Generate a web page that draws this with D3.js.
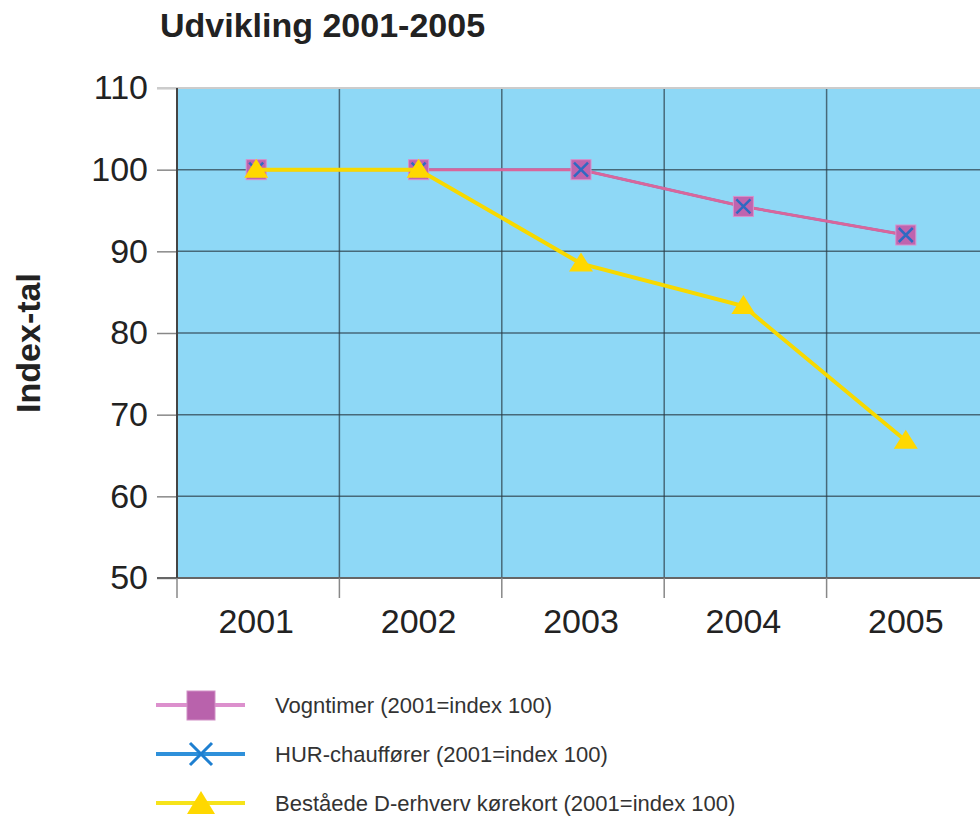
<!DOCTYPE html>
<html>
<head>
<meta charset="utf-8">
<script src="https://cdn.jsdelivr.net/npm/d3@7"></script>
<style>
body{margin:0;background:#fff;}
text{font-family:"Liberation Sans",Arial,sans-serif;}
</style>
</head>
<body>
<div id="canvas"></div>
<script>
//data
var years = ['2001','2002','2003','2004','2005'];
var vogntimer = [100,100,100,95.5,92];
var hurChauffoerer = [100,100,100,95.5,92];
var korekort = [100,100,88.5,83.3,66.8];
var yTicks = [50,60,70,80,90,100,110];
var legendNames = ['Vogntimer (2001=index 100)','HUR-chauffører (2001=index 100)','Beståede D-erhverv kørekort (2001=index 100)'];

var W = 980, H = 816;
var m = {t:88,l:177},
    w = 812,
    h = 490;

var svg = d3.select('#canvas')
    .append('svg')
    .attr('width',W)
    .attr('height',H);

//title
svg.append('text')
    .attr('x',160).attr('y',37)
    .style('font-size','34px').style('font-weight','bold').style('fill','#222')
    .text('Udvikling 2001-2005');

//y axis title
svg.append('text')
    .attr('transform','translate(40,343) rotate(-90)')
    .attr('text-anchor','middle')
    .style('font-size','34px').style('font-weight','bold').style('fill','#222')
    .text('Index-tal');

var plot = svg.append('g').attr('class','plot')
    .attr('transform','translate('+m.l+','+m.t+')');

var x = d3.scaleBand().domain(years).range([0,w]);
var y = d3.scaleLinear().domain([50,110]).range([h,0]);
var cx = function(i){ return x(years[i]) + x.bandwidth()/2 - 2; };

//background
plot.append('rect')
    .attr('width',w).attr('height',h)
    .style('fill','#8ED8F6');

//y axis ticks + labels
var yAxis = plot.append('g').attr('class','axis-y')
    .call(d3.axisLeft(y).tickValues(yTicks).tickSize(20).tickPadding(9));
yAxis.select('.domain').remove();
yAxis.selectAll('line').style('stroke','#888').style('stroke-width',1.5);
yAxis.selectAll('text').style('font-size','34px').style('fill','#222')
    .style('font-family','"Liberation Sans",Arial,sans-serif');

//horizontal gridlines
plot.selectAll('.hgrid')
    .data(yTicks.filter(function(d){return d>50 && d<110;}))
    .enter()
    .append('line').attr('class','hgrid')
    .attr('x1',0).attr('x2',w)
    .attr('y1',function(d){return y(d)}).attr('y2',function(d){return y(d)})
    .style('stroke','#2a3a44').style('stroke-opacity',0.7).style('stroke-width',1.5);

//vertical gridlines
plot.selectAll('.vgrid')
    .data(years.slice(1))
    .enter()
    .append('line').attr('class','vgrid')
    .attr('x1',function(d){return x(d)}).attr('x2',function(d){return x(d)})
    .attr('y1',0).attr('y2',h)
    .style('stroke','#2a3a44').style('stroke-opacity',0.7).style('stroke-width',1.5);

//frame lines
plot.append('line')
    .attr('x1',-20).attr('x2',w).attr('y1',0).attr('y2',0)
    .style('stroke','#ccc').style('stroke-width',2);
plot.append('line')
    .attr('x1',-20).attr('x2',w).attr('y1',h).attr('y2',h)
    .style('stroke','#666').style('stroke-width',2);
plot.append('line')
    .attr('x1',0).attr('x2',0).attr('y1',0).attr('y2',h)
    .style('stroke','#444').style('stroke-width',2);

//x ticks at category boundaries
plot.selectAll('.xtick')
    .data(years)
    .enter()
    .append('line').attr('class','xtick')
    .attr('x1',function(d){return x(d)}).attr('x2',function(d){return x(d)})
    .attr('y1',h).attr('y2',h+20)
    .style('stroke','#888').style('stroke-width',1.5);

//x labels
var xAxis = plot.append('g').attr('class','axis-x')
    .attr('transform','translate(-2,'+h+')')
    .call(d3.axisBottom(x).tickSize(0).tickPadding(31));
xAxis.select('.domain').remove();
xAxis.selectAll('text').style('font-size','34px').style('fill','#222')
    .style('font-family','"Liberation Sans",Arial,sans-serif');

//lines
var line = d3.line()
    .x(function(d,i){return cx(i)})
    .y(function(d){return y(d)});

plot.append('path').datum(hurChauffoerer)
    .attr('d',line)
    .style('fill','none').style('stroke','#2E7FD0').style('stroke-width',2.5);
plot.append('path').datum(vogntimer)
    .attr('d',line)
    .style('fill','none').style('stroke','#D9669B').style('stroke-width',3);

//square markers
plot.selectAll('.sq')
    .data(vogntimer)
    .enter()
    .append('rect').attr('class','sq')
    .attr('x',function(d,i){return cx(i)-10})
    .attr('y',function(d){return y(d)-10})
    .attr('width',20).attr('height',20)
    .style('fill','#BF64AE').style('stroke','#D98FCB').style('stroke-width',1);

//x markers
plot.selectAll('.cross')
    .data(hurChauffoerer)
    .enter()
    .append('path').attr('class','cross')
    .attr('transform',function(d,i){return 'translate('+cx(i)+','+y(d)+')'})
    .attr('d','M-7,-7L7,7M-7,7L7,-7')
    .style('stroke','#2F6AC2').style('stroke-width',2.5).style('fill','none');

//yellow line + triangles
plot.append('path').datum(korekort)
    .attr('d',line)
    .style('fill','none').style('stroke','#F7D900').style('stroke-width',4);
plot.selectAll('.tri')
    .data(korekort)
    .enter()
    .append('path').attr('class','tri')
    .attr('transform',function(d,i){return 'translate('+cx(i)+','+y(d)+')'})
    .attr('d','M0,-11L12,8L-12,8Z')
    .style('fill','#FFD800');

//legend
var legendY = [705,754,803];
var legendColors = ['#DC90CD','#2E90DA','#F6E31A'];
var legend = svg.selectAll('.legend')
    .data(legendNames)
    .enter()
    .append('g').attr('class','legend')
    .attr('transform',function(d,i){return 'translate(0,'+legendY[i]+')'});
legend.append('line')
    .attr('x1',156).attr('x2',245)
    .style('stroke',function(d,i){return legendColors[i]})
    .style('stroke-width',4);
legend.append('text')
    .attr('x',275).attr('y',0).attr('dy','0.35em')
    .style('font-size','22px').style('fill','#333')
    .text(function(d){return d});

legend.filter(function(d,i){return i==0})
    .append('rect')
    .attr('x',187).attr('y',-14).attr('width',28).attr('height',29)
    .style('fill','#B962AC').style('stroke','#D190C6').style('stroke-width',1);
legend.filter(function(d,i){return i==1})
    .append('path')
    .attr('transform','translate(201,0)')
    .attr('d','M-11,-11L11,11M-11,11L11,-11')
    .style('stroke','#1E7FD0').style('stroke-width',3).style('fill','none');
legend.filter(function(d,i){return i==2})
    .append('path')
    .attr('transform','translate(201,0)')
    .attr('d','M0,-12L14,11L-14,11Z')
    .style('fill','#FFD800');
</script>
</body>
</html>
